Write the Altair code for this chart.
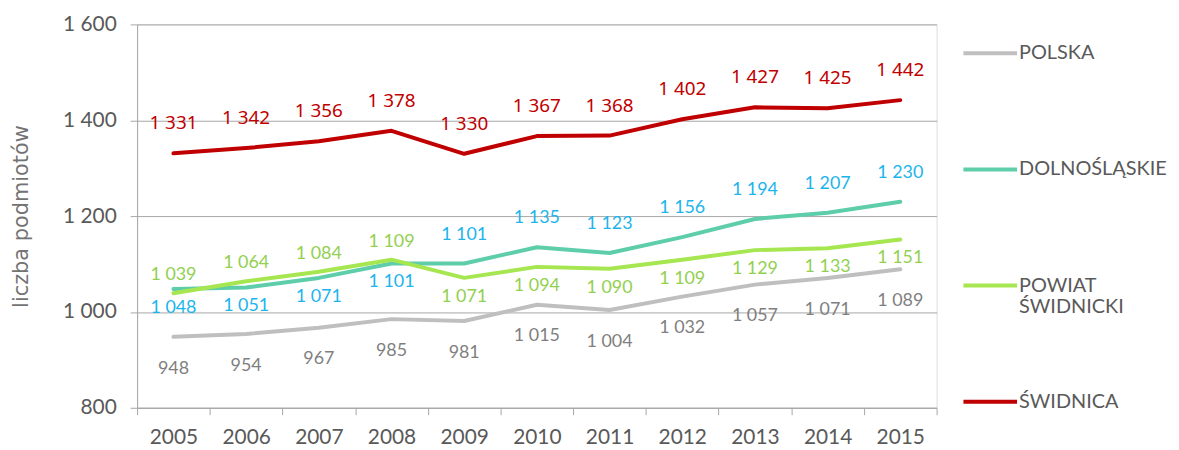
import altair as alt
import pandas as pd

years = ["2005", "2006", "2007", "2008", "2009", "2010", "2011", "2012", "2013", "2014", "2015"]
series_names = ["POLSKA", "DOLNOŚLĄSKIE", "POWIAT ŚWIDNICKI", "ŚWIDNICA"]

polska = [948, 954, 967, 985, 981, 1015, 1004, 1032, 1057, 1071, 1089]
dolnoslaskie = [1048, 1051, 1071, 1101, 1101, 1135, 1123, 1156, 1194, 1207, 1230]
powiat = [1039, 1064, 1084, 1109, 1071, 1094, 1090, 1109, 1129, 1133, 1151]
swidnica = [1331, 1342, 1356, 1378, 1330, 1367, 1368, 1402, 1427, 1425, 1442]

# label placement relative to the line point (as in the original)
place_polska = ["below"] * 11
place_dolnoslaskie = ["below", "below", "below", "below", "above", "above", "above", "above", "above", "above", "above"]
place_powiat = ["above", "above", "above", "above", "below", "below", "below", "below", "below", "below", "below"]
place_swidnica = ["above"] * 11

line_colors = ["#BFBFBF", "#5ECDAA", "#A6E650", "#C00000"]
label_colors = {"POLSKA": "#7F7F7F", "DOLNOŚLĄSKIE": "#1DB4EC", "POWIAT ŚWIDNICKI": "#92D050", "ŚWIDNICA": "#C00000"}
label_dy = {
    ("POLSKA", "below"): 32,
    ("DOLNOŚLĄSKIE", "below"): 19,
    ("DOLNOŚLĄSKIE", "above"): -29,
    ("POWIAT ŚWIDNICKI", "above"): -18,
    ("POWIAT ŚWIDNICKI", "below"): 19,
    ("ŚWIDNICA", "above"): -30,
}

rows = []
for name, vals, places in zip(series_names,
                              [polska, dolnoslaskie, powiat, swidnica],
                              [place_polska, place_dolnoslaskie, place_powiat, place_swidnica]):
    for y, v, p in zip(years, vals, places):
        rows.append({"year": y, "series": name, "value": v, "place": p,
                     "label": f"{v:,}".replace(",", " ")})
df = pd.DataFrame(rows)

x_enc = alt.X("year:O", bandPosition=0.5,
              scale=alt.Scale(type="band", paddingInner=0, paddingOuter=0),
              axis=alt.Axis(title=None, labelAngle=0, tickBand="extent", labelFont="Lato",
                            labelFontSize=21, labelColor="#595959", labelPadding=12,
                            tickSize=7, tickColor="#A6A6A6", domainColor="#A6A6A6",
                            grid=False))
y_enc = alt.Y("value:Q",
              scale=alt.Scale(domain=[800, 1600], nice=False, zero=False),
              axis=alt.Axis(values=[800, 1000, 1200, 1400, 1600],
                            labelExpr="replace(format(datum.value, ','), ',', ' ')",
                            title="liczba podmiotów", titleFont="DejaVu Sans", titleFontSize=21,
                            titleFontWeight="normal", titleColor="#737373",
                            titleAngle=-90, titleX=-116, titleY=193, titleAlign="center",
                            titleBaseline="middle",
                            labelFont="Lato", labelFontSize=21, labelColor="#595959",
                            labelPadding=14, tickSize=7, tickColor="#A6A6A6",
                            domainColor="#A6A6A6", gridColor="#A6A6A6", gridWidth=1))

lines = alt.Chart(df).mark_line(strokeWidth=4, strokeCap="round", strokeJoin="round").encode(
    x=x_enc,
    y=y_enc,
    color=alt.Color("series:N",
                    scale=alt.Scale(domain=series_names, range=line_colors),
                    sort=series_names,
                    legend=alt.Legend(title=None, orient="none", legendX=830, legendY=0,
                                      symbolType="stroke", symbolStrokeWidth=4, symbolSize=2916,
                                      labelFont="Lato", labelFontSize=20, labelColor="#595959",
                                      labelLimit=400, labelOffset=0, rowPadding=56,
                                      gridAlign="all",
                                      labelExpr="datum.label == 'POWIAT ŚWIDNICKI' ? ['POWIAT', 'ŚWIDNICKI'] : datum.label")),
    order=alt.Order("year:O"),
)

layers = [lines]
for (name, place), dy in label_dy.items():
    is_red = name == "ŚWIDNICA"
    t = alt.Chart(df).transform_filter(
        (alt.datum.series == name) & (alt.datum.place == place)
    ).mark_text(
        dy=dy,
        font="Noto Sans" if is_red else "Lato",
        fontSize=19 if is_red else 18,
        color=label_colors[name],
        baseline="middle",
        align="center",
    ).encode(x=x_enc, y=y_enc, text="label:N")
    layers.append(t)

chart = alt.layer(*layers).properties(
    width=805, height=386,
    padding={"left": 130, "top": 15, "right": 236, "bottom": 41},
    autosize="none",
).configure_view(stroke=None).configure(background="white")

chart.save("out.html", embed_options={"renderer": "svg", "actions": False})
